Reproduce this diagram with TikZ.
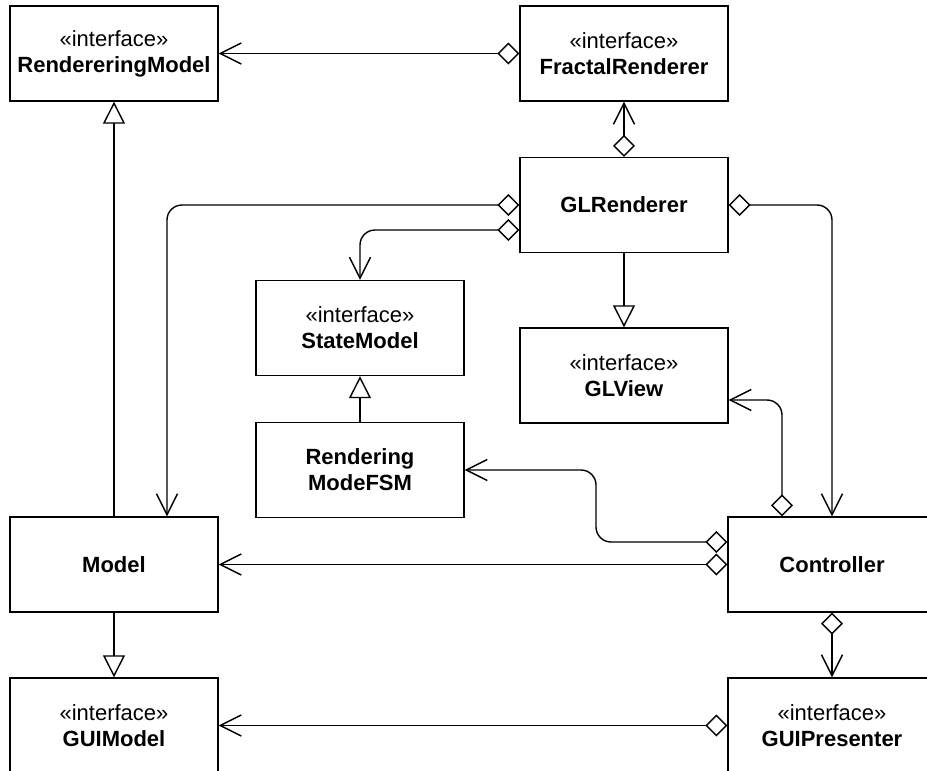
\documentclass[tikz,border=0pt]{standalone}
\usepackage{fontspec}
\setmainfont{Liberation Sans}
\usetikzlibrary{arrows.meta}
\begin{document}
\begin{tikzpicture}[x=1pt,y=-1pt,
  cls/.style={draw, line width=1.4pt, minimum width=208pt, minimum height=95pt,
    align=center, inner sep=0pt, font=\fontsize{22}{26}\selectfont},
  conn/.style={line width=1.4pt, rounded corners=15pt},
  agg/.style={conn, arrows={Diamond[length=22pt,width=22pt,fill=white]-Straight Barb[length=21pt,width=21pt]}},
  gen/.style={conn, arrows={-Triangle[length=22pt,width=22pt,fill=white]}}
]
% page area
\useasboundingbox (0,0) rectangle (927,771);
\fill[white] (0,0) rectangle (927,771);

% classes and interfaces
\node[cls] (RM)   at (114,53.5)  {«interface»\\\textbf{RendereringModel}};
\node[cls] (FR)   at (624,53.5)  {«interface»\\\textbf{FractalRenderer}};
\node[cls] (GLR)  at (624,205)   {\textbf{GLRenderer}};
\node[cls] (SM)   at (360,328)   {«interface»\\\textbf{StateModel}};
\node[cls] (GLV)  at (624,375.5) {«interface»\\\textbf{GLView}};
\node[cls] (FSM)  at (360,470)   {\textbf{Rendering}\\\textbf{ModeFSM}};
\node[cls] (MOD)  at (114,564.5) {\textbf{Model}};
\node[cls] (CTRL) at (832,564.5) {\textbf{Controller}};
\node[cls] (GUIM) at (114,725.5) {«interface»\\\textbf{GUIModel}};
\node[cls] (GUIP) at (832,725.5) {«interface»\\\textbf{GUIPresenter}};

% bend points
\coordinate (fsmbend) at (596,470);

% aggregations with navigable ends
\draw[agg] (FR.west) -- (RM.east);
\draw[agg] (GLR.north) -- (FR.south);
\draw[agg] (GLR.west) -| ([xshift=53pt]MOD.north);
\draw[agg] ([yshift=-25pt]GLR.west) -| (SM.north);
\draw[agg] (GLR.east) -| (CTRL.north);
\draw[agg] ([xshift=-50pt]CTRL.north) |- ([yshift=-24.5pt]GLV.east);
\draw[agg] ([yshift=22.5pt]CTRL.west) -| (fsmbend) -- (FSM.east);
\draw[agg] (CTRL.west) -- (MOD.east);
\draw[agg] (CTRL.south) -- (GUIP.north);
\draw[agg] (GUIP.west) -- (GUIM.east);

% generalizations / realizations
\draw[gen] (GLR.south) -- (GLV.north);
\draw[gen] (FSM.north) -- (SM.south);
\draw[gen] (MOD.north) -- (RM.south);
\draw[gen] (MOD.south) -- (GUIM.north);
\end{tikzpicture}
\end{document}
